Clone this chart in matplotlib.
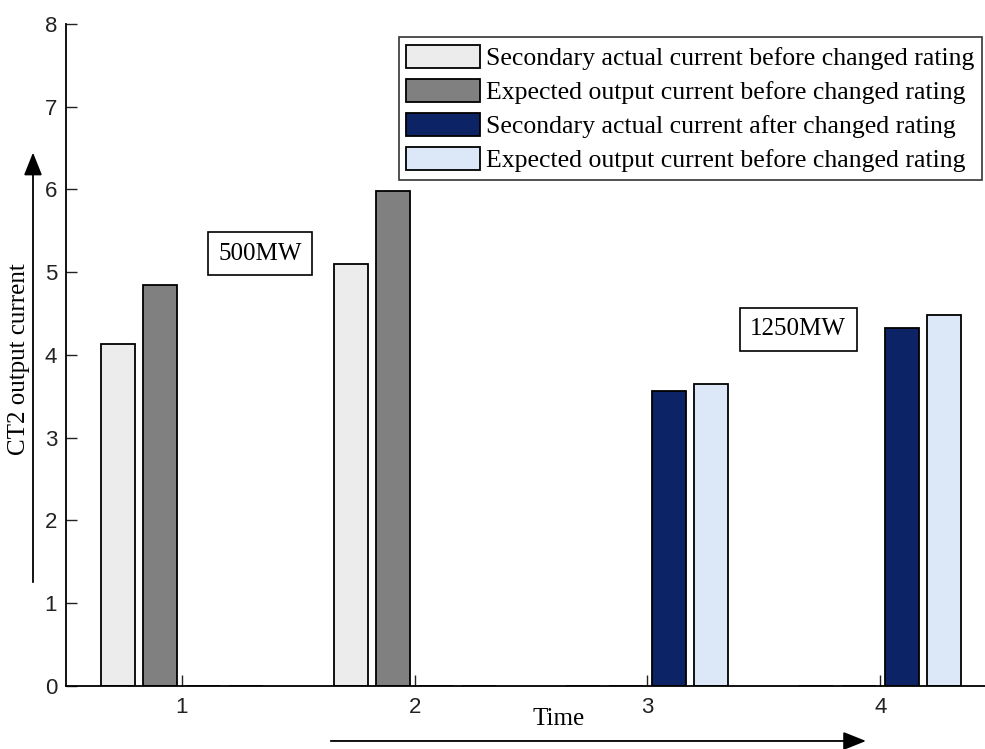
import numpy as np
import matplotlib
matplotlib.use('Agg')
import matplotlib.pyplot as plt
from matplotlib.patches import FancyArrowPatch

# bar heights per time step
times = [1, 2, 3, 4]
sec_before = [4.13, 5.10, 0, 0]
exp_before = [4.85, 5.98, 0, 0]
sec_after = [0, 0, 3.56, 4.33]
exp_after = [0, 0, 3.65, 4.48]

labels = ['Secondary actual current before changed rating',
          'Expected output current before changed rating',
          'Secondary actual current after changed rating',
          'Expected output current before changed rating']
colors = ['#ececec', '#808080', '#0c2466', '#dce8f7']

serif = 'Liberation Serif'
fig = plt.figure(figsize=(9.85, 7.49), dpi=100)
ax = fig.add_axes([0.0665, 0.0841, 0.9335, 0.884])

x = np.array(times)
w = 0.146
offsets = [-0.275, -0.092, 0.092, 0.275]
for vals, off, c, lab in zip([sec_before, exp_before, sec_after, exp_after], offsets, colors, labels):
    ax.bar(x + off, vals, width=w, color=c, edgecolor='black', linewidth=1.3, label=lab)

ax.set_xlim(0.5, 4.45)
ax.set_ylim(0, 8)
ax.set_xticks(times)
ax.set_yticks(range(0, 9))
ax.spines['top'].set_visible(False)
ax.spines['right'].set_visible(False)
ax.spines['left'].set_linewidth(1.3)
ax.spines['bottom'].set_linewidth(1.3)
ax.tick_params(direction='in', length=8, width=1, labelsize=16, colors='#222222')
ax.tick_params(axis='x', pad=8)
ax.tick_params(axis='y', pad=6)
for t in ax.get_xticklabels() + ax.get_yticklabels():
    t.set_family('Liberation Sans')

leg = ax.legend(loc='upper right', bbox_to_anchor=(1.0, 0.984), prop={'family': serif, 'size': 18.5},
                frameon=True, fancybox=False, edgecolor='black', handlelength=2.88,
                handleheight=1.0, handletextpad=0.23, labelspacing=0.34, borderpad=0.3,
                borderaxespad=0.1)
leg.get_frame().set_linewidth(1.2)

box = dict(boxstyle='square,pad=0.42', facecolor='white', edgecolor='black', linewidth=1.2)
ax.text(1.335, 5.22, '500MW', family=serif, fontsize=18, ha='center', va='center', bbox=box)
ax.text(3.648, 4.31, '1250MW', family=serif, fontsize=18, ha='center', va='center', bbox=box)

fig.text(0.019, 0.52, 'CT2 output current', family=serif, fontsize=18, rotation=90,
         ha='center', va='center')
fig.text(0.567, 0.04, 'Time', family=serif, fontsize=18, ha='center', va='center')

arrow = dict(arrowstyle='-|>,head_length=1.0,head_width=0.4', color='black', linewidth=1.3)
fig.add_artist(FancyArrowPatch((0.0335, 0.219), (0.0335, 0.80),
               transform=fig.transFigure, mutation_scale=14, **arrow))
fig.add_artist(FancyArrowPatch((0.333, 0.0107), (0.882, 0.0107),
               transform=fig.transFigure, mutation_scale=14, **arrow))

fig.savefig('out.png', dpi=100)
